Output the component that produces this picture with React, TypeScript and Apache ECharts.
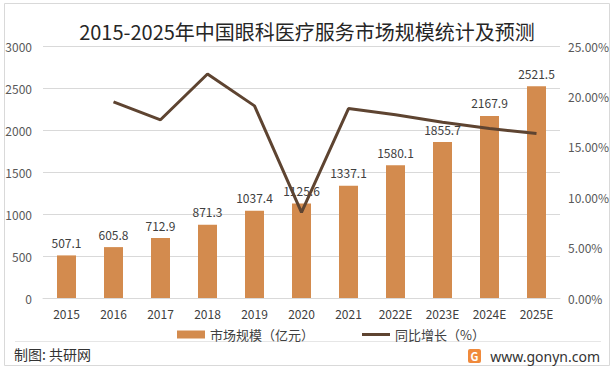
import React, { useEffect, useRef } from "react";
import * as echarts from "echarts";

const categories = ["2015", "2016", "2017", "2018", "2019", "2020", "2021", "2022E", "2023E", "2024E", "2025E"];
const marketSize = [507.1, 605.8, 712.9, 871.3, 1037.4, 1125.6, 1337.1, 1580.1, 1855.7, 2167.9, 2521.5];
const growth = [null, 19.46, 17.68, 22.22, 19.06, 8.5, 18.79, 18.17, 17.44, 16.82, 16.31];
const leftTicks = { min: 0, max: 3000, interval: 500 };
const rightTicks = { min: 0, max: 25, interval: 5 };

const FONT = "'Noto Sans CJK SC', 'Noto Sans', sans-serif";

export default function App() {
  const ref = useRef<HTMLDivElement>(null);
  useEffect(() => {
    if (!ref.current) return;
    const chart = echarts.init(ref.current, null, { renderer: "svg" });
    chart.setOption({
      animation: false,
      backgroundColor: "#ffffff",
      textStyle: { fontFamily: FONT },
      title: {
        text: "2015-2025年中国眼科医疗服务市场规模统计及预测",
        left: "center",
        top: 16,
        textStyle: { fontSize: 20, fontWeight: "normal", color: "#262626", fontFamily: FONT },
      },
      grid: { left: 43, right: 54, top: 46, bottom: 71, containLabel: false },
      legend: {
        top: 323,
        left: 172,
        itemGap: 48,
        itemWidth: 28,
        itemHeight: 8,
        textStyle: { fontSize: 13, color: "#404040", fontFamily: FONT },
        data: [
          { name: "市场规模（亿元）", icon: "rect" },
          { name: "同比增长（%）", icon: "path://M0,0 H28 V3 H0 Z" },
        ],
      },
      xAxis: {
        type: "category",
        data: categories,
        axisLine: { lineStyle: { color: "#d9d9d9" } },
        axisTick: { show: false },
        axisLabel: { color: "#404040", fontSize: 12, margin: 9 },
      },
      yAxis: [
        {
          type: "value",
          ...leftTicks,
          axisLine: { show: false },
          axisTick: { show: false },
          splitLine: { lineStyle: { color: "#d9d9d9" } },
          axisLabel: { color: "#595959", fontSize: 12, margin: 11, formatter: (v: number) => String(v) },
        },
        {
          type: "value",
          ...rightTicks,
          axisLine: { show: false },
          axisTick: { show: false },
          splitLine: { show: false },
          axisLabel: {
            color: "#595959",
            fontSize: 12,
            margin: 8,
            formatter: (v: number) => v.toFixed(2) + "%",
          },
        },
      ],
      series: [
        {
          name: "市场规模（亿元）",
          type: "bar",
          data: marketSize,
          barWidth: 19,
          itemStyle: { color: "#D38B4E" },
          label: { show: true, position: "top", distance: 7, color: "#404040", fontSize: 12 },
        },
        {
          name: "同比增长（%）",
          type: "line",
          yAxisIndex: 1,
          data: growth,
          symbol: "none",
          lineStyle: { color: "#5E4431", width: 3 },
          itemStyle: { color: "#5E4431" },
        },
      ],
      graphic: [
        {
          type: "rect",
          shape: { x: 4.5, y: 3.5, width: 605, height: 362 },
          style: { fill: "none", stroke: "#d9d9d9", lineWidth: 1 },
          silent: true,
        },
        {
          type: "line",
          shape: { x1: 15, y1: 341.5, x2: 601, y2: 341.5 },
          style: { stroke: "#e6e6e6", lineWidth: 1 },
        },
        {
          type: "text",
          left: 14,
          top: 347,
          style: { text: "制图: 共研网", fontSize: 14, fill: "#333333", fontFamily: FONT },
        },
        {
          type: "rect",
          shape: { x: 468, y: 349, width: 13, height: 14, r: 2 },
          style: { fill: "#F08A3C" },
        },
        {
          type: "text",
          x: 474.5,
          y: 356,
          style: { text: "G", fontSize: 11, fontWeight: "bold", fill: "#ffffff", align: "center", verticalAlign: "middle", fontFamily: FONT },
        },
        {
          type: "text",
          x: 600,
          y: 356,
          style: { text: "www.gonyn.com", fontSize: 14, fill: "#333333", align: "right", verticalAlign: "middle", fontFamily: "'Noto Sans', sans-serif" },
        },
      ],
    });
    return () => chart.dispose();
  }, []);
  return (
    <div
      ref={ref}
      style={{ position: "fixed", left: 0, top: 0, width: 614, height: 369 }}
    />
  );
}
